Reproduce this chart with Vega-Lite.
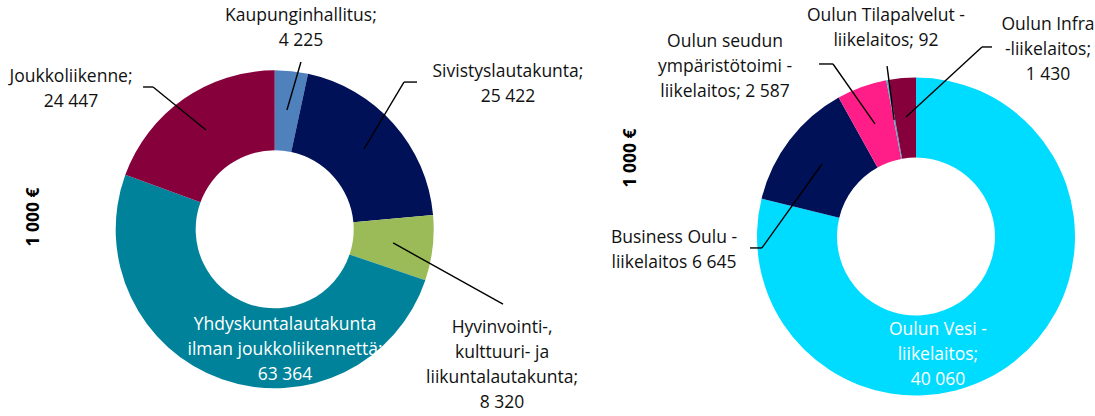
{
  "$schema": "https://vega.github.io/schema/vega-lite/v6.json",
  "padding": 0,
  "spacing": 0,
  "bounds": "flush",
  "background": "white",
  "config": {"view": {"stroke": null}, "text": {"font": "Open Sans"}},
  "resolve": {"scale": {"color": "independent", "x": "independent", "y": "independent", "theta": "independent"}},
  "datasets": {
    "left": [
      {"ord": 1, "name": "Kaupunginhallitus", "value": 4225, "label": "Kaupunginhallitus;\n4 225"},
      {"ord": 2, "name": "Sivistyslautakunta", "value": 25422, "label": "Sivistyslautakunta;\n25 422"},
      {"ord": 3, "name": "Hyvinvointi-, kulttuuri- ja liikuntalautakunta", "value": 8320, "label": "Hyvinvointi-,\nkulttuuri- ja\nliikuntalautakunta;\n8 320"},
      {"ord": 4, "name": "Yhdyskuntalautakunta ilman joukkoliikennettä", "value": 63364, "label": "Yhdyskuntalautakunta\nilman joukkoliikennettä;\n63 364"},
      {"ord": 5, "name": "Joukkoliikenne", "value": 24447, "label": "Joukkoliikenne;\n24 447"}
    ],
    "right": [
      {"ord": 1, "name": "Oulun Vesi -liikelaitos", "value": 40060, "label": "Oulun Vesi -\nliikelaitos;\n40 060"},
      {"ord": 2, "name": "Business Oulu -liikelaitos", "value": 6645, "label": "Business Oulu -\nliikelaitos  6 645"},
      {"ord": 3, "name": "Oulun seudun ympäristötoimi -liikelaitos", "value": 2587, "label": "Oulun seudun\nympäristötoimi -\nliikelaitos; 2 587"},
      {"ord": 4, "name": "Oulun Tilapalvelut -liikelaitos", "value": 92, "label": "Oulun Tilapalvelut -\nliikelaitos; 92"},
      {"ord": 5, "name": "Oulun Infra -liikelaitos", "value": 1430, "label": "Oulun Infra\n-liikelaitos;\n1 430"}
    ]
  },
  "hconcat": [
    {
      "width": 548,
      "height": 416,
      "data": {"name": "left"},
      "layer": [
        {
          "mark": {"type": "arc", "outerRadius": 159, "innerRadius": 79},
          "encoding": {
            "x": {"datum": 0, "type": "quantitative", "scale": {"domain": [-172.77, 171.89], "nice": false, "zero": false}, "axis": null},
            "y": {"datum": 0, "type": "quantitative", "scale": {"domain": [-117.42, 144.21], "nice": false, "zero": false}, "axis": null},
            "theta": {"field": "value", "type": "quantitative", "stack": true},
            "order": {"field": "ord", "type": "quantitative"},
            "color": {"field": "name", "type": "nominal", "legend": null,
              "scale": {"domain": ["Kaupunginhallitus", "Sivistyslautakunta", "Hyvinvointi-, kulttuuri- ja liikuntalautakunta", "Yhdyskuntalautakunta ilman joukkoliikennettä", "Joukkoliikenne"],
                        "range": ["#4F81BD", "#001158", "#9BBB59", "#00839A", "#86003C"]}}
          }
        },
        {"data": {"values": [{}]}, "mark": {"type": "rule", "color": "#000", "strokeWidth": 1.4},
         "encoding": {"x": {"datum": 16.5, "type": "quantitative"}, "y": {"datum": 105.2, "type": "quantitative"}, "x2": {"datum": 7.7}, "y2": {"datum": 75.0}}},
        {"data": {"values": [{}]}, "mark": {"type": "rule", "color": "#000", "strokeWidth": 1.4},
         "encoding": {"x": {"datum": 89.5, "type": "quantitative"}, "y": {"datum": 92.6, "type": "quantitative"}, "x2": {"datum": 81.3}, "y2": {"datum": 92.6}}},
        {"data": {"values": [{}]}, "mark": {"type": "rule", "color": "#000", "strokeWidth": 1.4},
         "encoding": {"x": {"datum": 81.3, "type": "quantitative"}, "y": {"datum": 92.6, "type": "quantitative"}, "x2": {"datum": 56.2}, "y2": {"datum": 50.5}}},
        {"data": {"values": [{}]}, "mark": {"type": "rule", "color": "#000", "strokeWidth": 1.4},
         "encoding": {"x": {"datum": 74.5, "type": "quantitative"}, "y": {"datum": -8.6, "type": "quantitative"}, "x2": {"datum": 143.6}, "y2": {"datum": -47.0}}},
        {"data": {"values": [{}]}, "mark": {"type": "rule", "color": "#000", "strokeWidth": 1.4},
         "encoding": {"x": {"datum": -82.8, "type": "quantitative"}, "y": {"datum": 89.5, "type": "quantitative"}, "x2": {"datum": -76.5}, "y2": {"datum": 89.5}}},
        {"data": {"values": [{}]}, "mark": {"type": "rule", "color": "#000", "strokeWidth": 1.4},
         "encoding": {"x": {"datum": -76.5, "type": "quantitative"}, "y": {"datum": 89.5, "type": "quantitative"}, "x2": {"datum": -43.2}, "y2": {"datum": 62.5}}},
        {"transform": [{"filter": "datum.ord === 1"}],
         "mark": {"type": "text", "align": "center", "baseline": "middle", "lineBreak": "\n", "lineHeight": 25, "fontSize": 17.5, "color": "#111"},
         "encoding": {"x": {"datum": 16.5, "type": "quantitative"}, "y": {"datum": 134.2, "type": "quantitative"}, "text": {"field": "label"}}},
        {"transform": [{"filter": "datum.ord === 2"}],
         "mark": {"type": "text", "align": "center", "baseline": "middle", "lineBreak": "\n", "lineHeight": 25, "fontSize": 17.5, "color": "#111"},
         "encoding": {"x": {"datum": 146.7, "type": "quantitative"}, "y": {"datum": 98.9, "type": "quantitative"}, "text": {"field": "label"}}},
        {"transform": [{"filter": "datum.ord === 3"}],
         "mark": {"type": "text", "align": "center", "baseline": "middle", "lineBreak": "\n", "lineHeight": 25, "fontSize": 17.5, "color": "#111"},
         "encoding": {"x": {"datum": 143.0, "type": "quantitative"}, "y": {"datum": -62.1, "type": "quantitative"}, "text": {"field": "label"}}},
        {"transform": [{"filter": "datum.ord === 4"}],
         "mark": {"type": "text", "align": "center", "baseline": "middle", "lineBreak": "\n", "lineHeight": 25, "fontSize": 17.5, "color": "#FFFFFF"},
         "encoding": {"x": {"datum": 6.5, "type": "quantitative"}, "y": {"datum": -60.2, "type": "quantitative"}, "text": {"field": "label"}}},
        {"transform": [{"filter": "datum.ord === 5"}],
         "mark": {"type": "text", "align": "center", "baseline": "middle", "lineBreak": "\n", "lineHeight": 25, "fontSize": 17.5, "color": "#111"},
         "encoding": {"x": {"datum": -128.1, "type": "quantitative"}, "y": {"datum": 95.8, "type": "quantitative"}, "text": {"field": "label"}}},
        {"data": {"values": [{}]},
         "mark": {"type": "text", "align": "center", "baseline": "middle", "angle": 270, "fontSize": 17.5, "fontWeight": "bold", "color": "#000"},
         "encoding": {"x": {"datum": -151.4, "type": "quantitative"}, "y": {"datum": 7.7, "type": "quantitative"}, "text": {"value": "1 000 €"}}}
      ]
    },
    {
      "width": 547,
      "height": 416,
      "data": {"name": "right"},
      "layer": [
        {
          "mark": {"type": "arc", "outerRadius": 159, "innerRadius": 79},
          "encoding": {
            "x": {"datum": 0, "type": "quantitative", "scale": {"domain": [-231.45, 112.58], "nice": false, "zero": false}, "axis": null},
            "y": {"datum": 0, "type": "quantitative", "scale": {"domain": [-112.89, 148.74], "nice": false, "zero": false}, "axis": null},
            "theta": {"field": "value", "type": "quantitative", "stack": true},
            "order": {"field": "ord", "type": "quantitative"},
            "color": {"field": "name", "type": "nominal", "legend": null,
              "scale": {"domain": ["Oulun Vesi -liikelaitos", "Business Oulu -liikelaitos", "Oulun seudun ympäristötoimi -liikelaitos", "Oulun Tilapalvelut -liikelaitos", "Oulun Infra -liikelaitos"],
                        "range": ["#00DCFF", "#001158", "#FF1E87", "#4BACC6", "#86003C"]}}
          }
        },
        {"data": {"values": [{}]}, "mark": {"type": "rule", "color": "#000", "strokeWidth": 1.4},
         "encoding": {"x": {"datum": -61.0, "type": "quantitative"}, "y": {"datum": 108.5, "type": "quantitative"}, "x2": {"datum": -52.2}, "y2": {"datum": 108.5}}},
        {"data": {"values": [{}]}, "mark": {"type": "rule", "color": "#000", "strokeWidth": 1.4},
         "encoding": {"x": {"datum": -52.2, "type": "quantitative"}, "y": {"datum": 108.5, "type": "quantitative"}, "x2": {"datum": -25.8}, "y2": {"datum": 70.8}}},
        {"data": {"values": [{}]}, "mark": {"type": "rule", "color": "#000", "strokeWidth": 1.4},
         "encoding": {"x": {"datum": -18.2, "type": "quantitative"}, "y": {"datum": 107.2, "type": "quantitative"}, "x2": {"datum": -13.8}, "y2": {"datum": 73.3}}},
        {"data": {"values": [{}]}, "mark": {"type": "rule", "color": "#000", "strokeWidth": 1.4},
         "encoding": {"x": {"datum": 47.8, "type": "quantitative"}, "y": {"datum": 119.2, "type": "quantitative"}, "x2": {"datum": 41.5}, "y2": {"datum": 119.2}}},
        {"data": {"values": [{}]}, "mark": {"type": "rule", "color": "#000", "strokeWidth": 1.4},
         "encoding": {"x": {"datum": 41.5, "type": "quantitative"}, "y": {"datum": 119.2, "type": "quantitative"}, "x2": {"datum": -6.3}, "y2": {"datum": 75.2}}},
        {"data": {"values": [{}]}, "mark": {"type": "rule", "color": "#000", "strokeWidth": 1.4},
         "encoding": {"x": {"datum": -104.4, "type": "quantitative"}, "y": {"datum": -7.2, "type": "quantitative"}, "x2": {"datum": -96.9}, "y2": {"datum": -7.2}}},
        {"data": {"values": [{}]}, "mark": {"type": "rule", "color": "#000", "strokeWidth": 1.4},
         "encoding": {"x": {"datum": -96.9, "type": "quantitative"}, "y": {"datum": -7.2, "type": "quantitative"}, "x2": {"datum": -59.1}, "y2": {"datum": 45.6}}},
        {"transform": [{"filter": "datum.ord === 1"}],
         "mark": {"type": "text", "align": "center", "baseline": "middle", "lineBreak": "\n", "lineHeight": 25, "fontSize": 17.5, "color": "#FFFFFF"},
         "encoding": {"x": {"datum": 13.8, "type": "quantitative"}, "y": {"datum": -58.8, "type": "quantitative"}, "text": {"field": "label"}}},
        {"transform": [{"filter": "datum.ord === 2"}],
         "mark": {"type": "text", "align": "center", "baseline": "middle", "lineBreak": "\n", "lineHeight": 25, "fontSize": 17.5, "color": "#111"},
         "encoding": {"x": {"datum": -152.2, "type": "quantitative"}, "y": {"datum": -0.94, "type": "quantitative"}, "text": {"field": "label"}}},
        {"transform": [{"filter": "datum.ord === 3"}],
         "mark": {"type": "text", "align": "center", "baseline": "middle", "lineBreak": "\n", "lineHeight": 25, "fontSize": 17.5, "color": "#111"},
         "encoding": {"x": {"datum": -120.1, "type": "quantitative"}, "y": {"datum": 122.3, "type": "quantitative"}, "text": {"field": "label"}}},
        {"transform": [{"filter": "datum.ord === 4"}],
         "mark": {"type": "text", "align": "center", "baseline": "middle", "lineBreak": "\n", "lineHeight": 25, "fontSize": 17.5, "color": "#111"},
         "encoding": {"x": {"datum": -18.9, "type": "quantitative"}, "y": {"datum": 138.7, "type": "quantitative"}, "text": {"field": "label"}}},
        {"transform": [{"filter": "datum.ord === 5"}],
         "mark": {"type": "text", "align": "center", "baseline": "middle", "lineBreak": "\n", "lineHeight": 25, "fontSize": 17.5, "color": "#111"},
         "encoding": {"x": {"datum": 83.0, "type": "quantitative"}, "y": {"datum": 133.0, "type": "quantitative"}, "text": {"field": "label"}}},
        {"data": {"values": [{}]},
         "mark": {"type": "text", "align": "center", "baseline": "middle", "angle": 270, "fontSize": 17.5, "fontWeight": "bold", "color": "#000"},
         "encoding": {"x": {"datum": -179.2, "type": "quantitative"}, "y": {"datum": 49.4, "type": "quantitative"}, "text": {"value": "1 000 €"}}}
      ]
    }
  ]
}
